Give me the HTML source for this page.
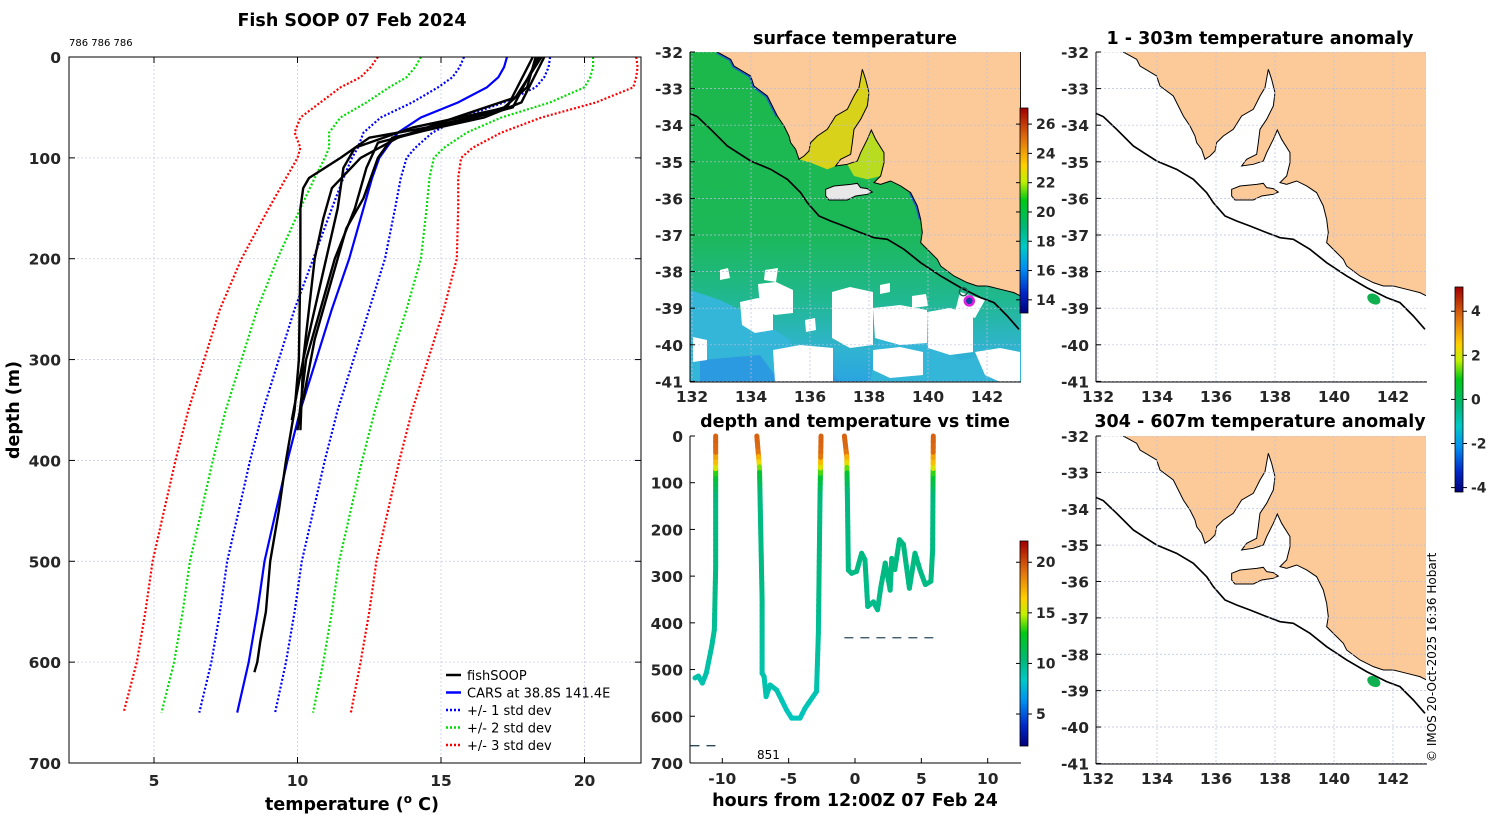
<!DOCTYPE html>
<html><head><meta charset="utf-8">
<style>
html,body{margin:0;padding:0;background:#fff;}
svg{display:block;font-family:"DejaVu Sans","Liberation Sans",sans-serif;}
.tk{font-size:15.5px;font-weight:bold;fill:#262626;}
.tt{font-size:17.5px;font-weight:bold;fill:#000;}
.lg{font-size:13px;fill:#000;}
</style></head>
<body>
<svg id="fig" width="1500" height="820" viewBox="0 0 1500 820" xmlns="http://www.w3.org/2000/svg">
<defs>
<linearGradient id="jet" x1="0" y1="1" x2="0" y2="0">
<stop offset="0" stop-color="#00007a"/><stop offset="0.1" stop-color="#0028c8"/><stop offset="0.22" stop-color="#0090f0"/>
<stop offset="0.32" stop-color="#00c8c8"/><stop offset="0.42" stop-color="#00b878"/><stop offset="0.55" stop-color="#00c818"/>
<stop offset="0.64" stop-color="#c0f000"/><stop offset="0.72" stop-color="#ffd000"/><stop offset="0.85" stop-color="#e07010"/><stop offset="1" stop-color="#a00000"/>
</linearGradient>
<linearGradient id="sea" x1="0" y1="0" x2="0" y2="1">
<stop offset="0" stop-color="#1cb84a"/><stop offset="0.55" stop-color="#1cb858"/><stop offset="0.75" stop-color="#20b890"/><stop offset="0.9" stop-color="#30b4d0"/><stop offset="1" stop-color="#2aa4e0"/>
</linearGradient>
<clipPath id="cSST"><rect x="690" y="52" width="331" height="330"/></clipPath>
<clipPath id="cA1"><rect x="1096" y="52" width="330" height="330"/></clipPath>
<clipPath id="cA2"><rect x="1096" y="436" width="330" height="328"/></clipPath>
<clipPath id="cL"><rect x="69" y="57" width="572" height="706"/></clipPath>
</defs>

<text x="352" y="26" text-anchor="middle" class="tt">Fish SOOP 07 Feb 2024</text>
<text x="69" y="46" style="font-size:10px">786 786 786</text>
<text transform="translate(19,410) rotate(-90)" text-anchor="middle" class="tt">depth (m)</text>
<text x="352" y="810" text-anchor="middle" class="tt">temperature (<tspan dy="-7" style="font-size:12px">o</tspan><tspan dy="7"> C)</tspan></text>
<g id="left"></g>

<text x="855" y="44" text-anchor="middle" class="tt">surface temperature</text>
<g id="sst"></g>
<text x="855" y="427" text-anchor="middle" class="tt">depth and temperature vs time</text>
<g id="tp"></g>
<text x="855" y="806" text-anchor="middle" class="tt">hours from 12:00Z 07 Feb 24</text>

<text x="1260" y="44" text-anchor="middle" class="tt">1 - 303m temperature anomaly</text>
<g id="a1"></g>
<text x="1260" y="427" text-anchor="middle" class="tt">304 - 607m temperature anomaly</text>
<g id="a2"></g>
<g id="cbars"></g>
<text transform="translate(1436,762) rotate(-90)" style="font-size:12px">© IMOS 20-Oct-2025 16:36 Hobart</text>
</svg>
<script>
// ===== Profile data =====
const caDepth = [0,10,20,30,45,60,75,90,100,120,150,200,250,300,350,400,450,500,550,600,650];
const caMean  = [17.3,17.2,17.0,16.6,15.6,14.3,13.5,13.1,12.85,12.6,12.3,11.8,11.2,10.65,10.1,9.65,9.25,8.85,8.6,8.3,7.9];
const caSigma = [1.5,1.55,1.6,1.7,1.6,1.4,1.2,1.0,0.95,1.0,1.1,1.25,1.3,1.3,1.3,1.3,1.3,1.3,1.3,1.3,1.32];
const pA_d = [0,30,50,60,70,80,100,120,130,150,200,300,350,400,450,500,550,580,600,610];
const pA_t = [18.3,18.0,17.2,16.0,14.5,12.5,11.5,10.4,10.2,10.1,10.1,10.05,9.9,9.6,9.35,9.05,8.9,8.7,8.6,8.5];
const pB_d = [0,40,60,80,100,130,160,200,250,300,370];
const pB_t = [18.5,17.6,15.5,13.5,12.2,11.2,10.9,10.6,10.4,10.2,10.1];
const pC_d = [0,50,70,90,110,150,200,250,300,360];
const pC_t = [18.2,17.3,14.0,12.0,11.6,11.4,11.0,10.6,10.2,9.8];
const pD_d = [0,50,65,85,110,150,200,250,300,370];
const pD_t = [18.4,17.5,15.5,12.8,12.4,12.0,11.3,10.8,10.3,10.0];
const pE_d = [0,45,60,80,100,140,170,220,280,340];
const pE_t = [18.6,17.8,16.5,13.3,12.8,12.3,11.7,11.2,10.6,10.2];
const tTicks = [5,10,15,20];
const dTicks = [0,100,200,300,400,500,600,700];
// ===== Depth-time data =====
const seg1_h = [-12.06,-11.8,-11.5,-11.2,-10.8,-10.6,-10.5,-10.5];
const seg1_d = [518,514,529,507,451,415,280,0];
const seg2_h = [-7.4,-7.2,-7.0,-7.0,-6.85,-6.7,-6.4,-5.9,-5.15,-4.77,-4.14,-3.77,-2.9,-2.76,-2.64,-2.56];
const seg2_d = [0,66,351,508,515,558,533,544,587,604,604,583,547,422,137,0];
const seg3_h = [-0.8,-0.62,-0.57,-0.5,-0.25,0.12,0.5,0.75,0.96,1.39,1.7,1.95,2.28,2.65,2.77,3.0,3.35,3.65,4.1,4.52,4.9,5.3,5.72,5.85,5.9];
const seg3_d = [0,44,137,287,294,290,251,265,365,355,372,323,272,330,262,286,222,232,326,251,287,318,311,244,0];
const hTicks = [-10,-5,0,5,10];
const bottomMarks_h = [[-12.4,-10.5],[-0.8,5.9]];
const bottomMarks_d = [663,432];
// ===== Colorbars / map ticks =====
const sstTicks = [14,16,18,20,22,24,26];
const tempTicks = [5,10,15,20];
const anomTicks = [-4,-2,0,2,4];
const lonTicks = [132,134,136,138,140,142];
const latTicks = [-32,-33,-34,-35,-36,-37,-38,-39,-40,-41];

const NS='http://www.w3.org/2000/svg';
function mk(parent,tag,attrs,text){const e=document.createElementNS(NS,tag);for(const k in attrs)e.setAttribute(k,attrs[k]);if(text!==undefined)e.textContent=text;parent.appendChild(e);return e;}

// ---- Left profile plot ----
const L=document.getElementById('left');
const X=t=>154+(t-5)*28.7, Y=d=>57+d*706/700;
for(const t of tTicks){
  const g=mk(L,'line',{x1:X(t),x2:X(t),y1:57,y2:763,stroke:'#c8cce8','stroke-width':0.8,'stroke-dasharray':'2,2'});
  
  
  const tl=mk(L,'text',{x:X(t),y:786,'text-anchor':'middle',class:'tk'},String(t));
  
  
  mk(L,'line',{x1:X(t),x2:X(t),y1:57,y2:63,stroke:'#000'});mk(L,'line',{x1:X(t),x2:X(t),y1:757,y2:763,stroke:'#000'});
}
for(const d of dTicks){
  if(d>0&&d<700){const g=mk(L,'line',{x1:69,x2:641,y1:Y(d),y2:Y(d),stroke:'#c8cce8','stroke-width':0.8,'stroke-dasharray':'2,2'});
  
  }
  const tl=mk(L,'text',{x:61,y:Y(d)+6,'text-anchor':'end',class:'tk'},String(d));
  
  
  mk(L,'line',{x1:69,x2:75,y1:Y(d),y2:Y(d),stroke:'#000'});mk(L,'line',{x1:635,x2:641,y1:Y(d),y2:Y(d),stroke:'#000'});
}
const LC=mk(L,'g',{'clip-path':'url(#cL)'});
function pts(ts,ds){return ts.map((t,i)=>X(t).toFixed(1)+','+Y(ds[i]).toFixed(1)).join(' ');}
const devCols=['#0000ff','#00dd00','#ff0000'];
[1,2,3].forEach((k,ki)=>{
  [-1,1].forEach(s=>{
    const p=mk(LC,'polyline',{points:pts(caMean.map((m,i)=>m+s*k*caSigma[i]),caDepth),fill:'none',stroke:devCols[ki],'stroke-width':2.2,'stroke-dasharray':'2,2'});
    
    
  });
});
const cars=mk(LC,'polyline',{points:pts(caMean,caDepth),fill:'none',stroke:'#0000ff','stroke-width':2.2});


[[pA_t,pA_d],[pB_t,pB_d],[pC_t,pC_d],[pD_t,pD_d],[pE_t,pE_d]].forEach((p,i)=>{
  const l=mk(LC,'polyline',{points:pts(p[0],p[1]),fill:'none',stroke:'#000','stroke-width':2.4,'stroke-linejoin':'round'});
  
  
});
mk(L,'rect',{x:69,y:57,width:572,height:706,fill:'none',stroke:'#000','stroke-width':1});
const legItems=[['fishSOOP','#000',''],['CARS at 38.8S 141.4E','#0000ff',''],['+/- 1 std dev','#0000ff','2,2'],['+/- 2 std dev','#00dd00','2,2'],['+/- 3 std dev','#ff0000','2,2']];
legItems.forEach((it,i)=>{
  const y=675+i*17.5;
  const g=mk(L,'g',{});
  
  
  mk(g,'line',{x1:446,x2:461,y1:y,y2:y,stroke:it[1],'stroke-width':2.5,'stroke-dasharray':it[2]||'none'});
  mk(g,'text',{x:467,y:y+5,class:'lg'},it[0]);
});

// ---- Colormap ----
const cmStops=[[0,[0,0,122]],[0.1,[0,40,200]],[0.22,[0,144,240]],[0.32,[0,200,200]],[0.42,[0,184,120]],[0.55,[0,200,24]],[0.64,[192,240,0]],[0.72,[255,208,0]],[0.85,[224,112,16]],[1,[160,0,0]]];
function cmap(f){f=Math.max(0,Math.min(1,f));for(let i=1;i<cmStops.length;i++){if(f<=cmStops[i][0]){const a=cmStops[i-1],b=cmStops[i];const u=(f-a[0])/(b[0]-a[0]);const c=a[1].map((v,j)=>Math.round(v+(b[1][j]-v)*u));return 'rgb('+c.join(',')+')';}}return 'rgb(160,0,0)';}
function interp(xs,ys,x){if(x<=xs[0])return ys[0];for(let i=1;i<xs.length;i++){if(x<=xs[i]){const u=(x-xs[i-1])/(xs[i]-xs[i-1]);return ys[i-1]+(ys[i]-ys[i-1])*u;}}return ys[ys.length-1];}

// ---- Depth-time plot ----
const TP=document.getElementById('tp');
const HX=h=>855+h*13.27, DY=d=>436+d*0.4671;
for(const d of dTicks){
  const tl=mk(TP,'text',{x:683,y:DY(d)+6,'text-anchor':'end',class:'tk'},String(d));
  
  
  mk(TP,'line',{x1:690,x2:695,y1:DY(d),y2:DY(d),stroke:'#000'});
}
for(const h of hTicks){
  const tl=mk(TP,'text',{x:HX(h),y:784,'text-anchor':'middle',class:'tk'},String(h));
  
  
  mk(TP,'line',{x1:HX(h),x2:HX(h),y1:758,y2:763,stroke:'#000'});
}
mk(TP,'line',{x1:690,x2:690,y1:436,y2:763,stroke:'#000'});
mk(TP,'line',{x1:690,x2:1021,y1:763,y2:763,stroke:'#000'});
[[seg1_h,seg1_d],[seg2_h,seg2_d],[seg3_h,seg3_d]].forEach(s=>{
  const [hs,ds]=s;
  const g=mk(TP,'g',{});
  
  
  for(let i=1;i<hs.length;i++){
    const n=Math.max(1,Math.ceil(Math.abs(ds[i]-ds[i-1])/12));
    for(let k=0;k<n;k++){
      const u0=k/n,u1=(k+1)/n;
      const h0=hs[i-1]+(hs[i]-hs[i-1])*u0,h1=hs[i-1]+(hs[i]-hs[i-1])*u1;
      const d0=ds[i-1]+(ds[i]-ds[i-1])*u0,d1=ds[i-1]+(ds[i]-ds[i-1])*u1;
      const t=interp(pA_d,pA_t,(d0+d1)/2)+((d0+d1)/2<40?1.2:0);
      mk(g,'line',{x1:HX(h0),y1:DY(d0),x2:HX(h1),y2:DY(d1),stroke:cmap((t-1.8)/20.3),'stroke-width':5,'stroke-linecap':'round'});
    }
  }
});
bottomMarks_d.forEach((d,i)=>{
  const l=mk(TP,'line',{x1:HX(bottomMarks_h[i][0]),x2:HX(bottomMarks_h[i][1]),y1:DY(d),y2:DY(d),stroke:'#2a4a5a','stroke-width':1.3,'stroke-dasharray':'9,7'});
  
  
});
mk(TP,'text',{x:757,y:759,style:'font-size:12px'},'851');

// ---- Maps ----
const land="190,68 230,90 240,110 290,140 300,170 340,200 355,230 370,260 390,290 405,320 410,340 425,360 435,390 450,380 465,365 470,340 490,320 520,300 545,260 580,240 600,200 615,175 625,120 635,150 645,190 640,230 620,270 600,300 595,340 590,375 560,390 545,410 580,405 610,395 620,370 640,330 652,302 665,330 690,370 690,400 680,440 660,460 680,465 710,455 740,470 770,490 790,530 800,570 805,610 800,640 830,670 850,690 860,710 900,740 940,760 970,770 1000,770 1040,780 1080,790 1100,800 1100,60 190,60";
const kangaroo="515,480 540,470 590,465 610,462 620,475 640,478 655,488 640,495 605,500 580,512 525,512 515,500";
const shelf="108,252 130,262 170,300 220,350 290,395 350,420 400,450 440,490 460,520 495,560 530,575 570,590 620,610 660,625 700,630 750,660 800,700 860,740 920,775 980,805 1020,820 1060,860 1095,900";
const spencer="435,390 450,380 465,365 470,340 490,320 520,300 545,260 580,240 600,200 615,175 625,120 635,150 645,190 640,230 620,270 600,300 595,340 590,375 560,390 545,410 520,420 470,400";
const stvincent="580,405 610,395 620,370 640,330 652,302 665,330 690,370 690,400 680,440 640,450 600,440";
function poly(C,c,fill,name){const p=mk(C,'polygon',{points:c.map(q=>q.join(',')).join(' '),fill:fill});
  
  return p;}
function drawMap(gid,x0,y0,h,clip,sst){
  const G=document.getElementById(gid);
  const C=mk(G,'g',{'clip-path':'url(#'+clip+')'});
  mk(C,'rect',{x:x0,y:y0,width:331,height:h,fill:sst?'url(#sea)':'#fff'});
  if(sst){
    [[[690,290],[720,300],[760,320],[790,340],[800,382],[690,382]],[[880,330],[930,340],[960,360],[1021,350],[1021,382],[870,382]]].forEach(c=>poly(C,c,'#34b6d8','cool-water'));
    [[[700,360],[760,355],[780,382],[700,382]],[[800,365],[830,370],[840,382],[795,382]]].forEach(c=>poly(C,c,'#2c9ae0','cold-water'));
    const clouds=[
      [[693,337],[707,340],[707,360],[693,362]],
      [[740,302],[758,298],[773,305],[773,330],[755,333],[742,325]],
      [[758,284],[776,282],[793,290],[793,313],[775,315],[760,308]],
      [[773,350],[800,345],[833,348],[833,382],[775,382]],
      [[832,292],[850,287],[873,292],[873,345],[850,348],[832,338]],
      [[873,308],[900,305],[927,310],[927,343],[900,345],[875,338]],
      [[927,312],[950,308],[973,315],[973,352],[950,355],[928,348]],
      [[873,350],[900,347],[923,352],[923,375],[890,378],[873,370]],
      [[975,352],[1000,348],[1020,352],[1020,382],[1000,382],[985,375]],
      [[765,270],[778,268],[776,282],[764,280]],[[805,320],[815,318],[816,330],[806,332]],
      [[960,292],[985,300],[975,318],[955,312]],[[912,296],[926,294],[928,306],[912,308]],
      [[720,270],[728,268],[730,278],[720,280]],[[880,285],[890,283],[890,292],[880,294]]];
    clouds.forEach(c=>poly(C,c,'#fff','cloud-mask'));
  }
  const T=mk(C,'g',{transform:'translate('+x0+','+y0+') scale(0.3333) translate(-108,-68)'});
  if(sst){mk(T,'polygon',{points:spencer,fill:'#d8d21a'});mk(T,'polygon',{points:stvincent,fill:'#b8dc20'});
    mk(T,'polyline',{points:"190,68 230,90 240,110 290,140 300,170 340,200 355,230 370,260",fill:'none',stroke:'#2060d0','stroke-width':12});
    mk(T,'polyline',{points:"770,490 790,530 800,570",fill:'none',stroke:'#2060d0','stroke-width':12});}
  const ld=mk(T,'polygon',{points:land,fill:'#fcca98',stroke:'#000','stroke-width':3});
  
  
  mk(T,'polygon',{points:kangaroo,fill:sst?'#e8e8e8':'#fcca98',stroke:'#000','stroke-width':3});
  const sh=mk(T,'polyline',{points:shelf,fill:'none',stroke:'#000','stroke-width':5});
  
  
  const LX=lon=>x0+2+(lon-132)*29.5, LY=lat=>y0+(-32-lat)*36.6*(h/330);
  for(const lo of lonTicks){mk(C,'line',{x1:LX(lo),x2:LX(lo),y1:y0,y2:y0+h,stroke:'#b8c0e0','stroke-width':0.7,'stroke-dasharray':'2,2'});}
  for(const la of latTicks){mk(C,'line',{x1:x0,x2:x0+331,y1:LY(la),y2:LY(la),stroke:'#b8c0e0','stroke-width':0.7,'stroke-dasharray':'2,2'});}
  if(sst){
    const m=mk(G,'circle',{cx:LX(141.4),cy:LY(-38.8),r:4.5,fill:'#1040a0',stroke:'#e020e0','stroke-width':2.5});
    
    
    mk(G,'circle',{cx:LX(141.2),cy:LY(-38.55),r:4,fill:'none',stroke:'#206050','stroke-width':1.5});
  } else {
    const b=mk(G,'ellipse',{cx:LX(141.35),cy:LY(-38.75),rx:7,ry:5,transform:'rotate(30 '+LX(141.35)+' '+LY(-38.75)+')',fill:'#10b050'});
    
    
  }
  for(const lo of lonTicks){const t=mk(G,'text',{x:LX(lo),y:y0+h+20,'text-anchor':'middle',class:'tk'},String(lo));
    
    }
  for(const la of latTicks){const t=mk(G,'text',{x:x0-7,y:LY(la)+6,'text-anchor':'end',class:'tk'},String(la));
    
    
    mk(G,'line',{x1:x0,x2:x0+5,y1:LY(la),y2:LY(la),stroke:'#000'});}
  mk(G,'line',{x1:x0,x2:x0,y1:y0,y2:y0+h,stroke:'#000'});
  mk(G,'line',{x1:x0,x2:x0+331,y1:y0+h,y2:y0+h,stroke:'#000'});
}
drawMap('sst',690,52,330,'cSST',true);
drawMap('a1',1096,52,330,'cA1',false);
drawMap('a2',1096,436,328,'cA2',false);

// ---- Colorbars ----
const CB=document.getElementById('cbars');
function cbar(x,y0,y1,vmin,vmax,ticks,name){
  const g=mk(CB,'g',{});
  
  
  mk(g,'rect',{x:x,y:y0,width:8,height:y1-y0,fill:'url(#jet)',stroke:'#000','stroke-width':0.8});
  for(const t of ticks){const yy=y1-(t-vmin)/(vmax-vmin)*(y1-y0);
    mk(g,'line',{x1:x+8,x2:x+12,y1:yy,y2:yy,stroke:'#000'});mk(g,'line',{x1:x-4,x2:x,y1:yy,y2:yy,stroke:'#000'});
    mk(g,'text',{x:x+16,y:yy+5,style:'font-size:14px;font-weight:bold;fill:#262626'},String(t));}
}
cbar(1020,108,313,13.1,27.1,sstTicks,'sst-colorbar');
cbar(1020,541,746,1.84,22.1,tempTicks,'temperature-colorbar');
cbar(1455,287,492,-4.2,5.1,anomTicks,'anomaly-colorbar');
</script>
</body></html>
